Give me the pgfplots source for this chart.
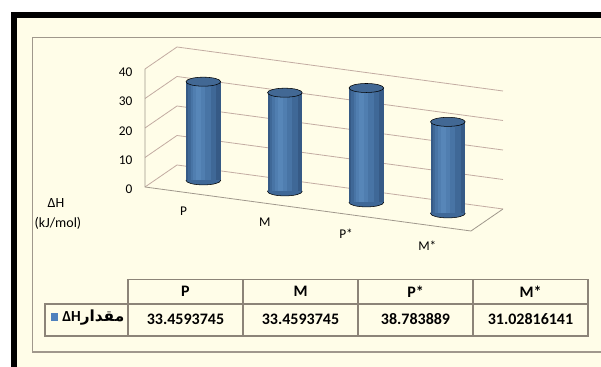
\documentclass[border=0pt]{standalone}
\usepackage{pgfplots}
\pgfplotsset{compat=1.18}
\usepackage{fontspec}
\setmainfont{Carlito}
\newfontfamily\arabicfont[Script=Arabic]{DejaVu Sans}
\TeXXeTstate=1
\pgfdeclarelayer{background}
\pgfsetlayers{background,main}
\definecolor{cream}{RGB}{255,253,232}
\definecolor{frameg}{RGB}{160,152,140}
\definecolor{tablec}{RGB}{140,132,120}
\definecolor{gridc}{RGB}{195,172,162}
\definecolor{cylA}{RGB}{54,90,134}
\definecolor{cylB}{RGB}{63,104,151}
\definecolor{cylC}{RGB}{72,116,165}
\definecolor{cylD}{RGB}{80,126,176}
\definecolor{cylE}{RGB}{87,134,184}
\definecolor{capc}{RGB}{66,104,148}
\definecolor{keyc}{RGB}{79,129,189}

\newcommand\cyl[2]{%
  \addplot3[only marks, mark=*, mark size=13pt, mark options={yscale=0.26, fill=cylB, draw=none}] coordinates {(#1,0.55,0)};
  \addplot3[no marks, line width=26pt, cylA] coordinates {(#1,0.55,0) (#1,0.55,#2)};
  \addplot3[no marks, line width=21pt, cylB, xshift=-1pt] coordinates {(#1,0.55,0) (#1,0.55,#2)};
  \addplot3[no marks, line width=15pt, cylC, xshift=-2pt] coordinates {(#1,0.55,0) (#1,0.55,#2)};
  \addplot3[no marks, line width=9pt, cylD, xshift=-3pt] coordinates {(#1,0.55,0) (#1,0.55,#2)};
  \addplot3[no marks, line width=4pt, cylE, xshift=-3.5pt] coordinates {(#1,0.55,0) (#1,0.55,#2)};
  \addplot3[only marks, mark=*, mark size=13pt, mark options={yscale=0.26, fill=capc, draw=none}] coordinates {(#1,0.55,#2)};
}

\begin{document}
\begin{tikzpicture}
\begin{axis}[
  x={(61.125pt,-8.25pt)}, y={(24pt,16.5pt)}, z={(0pt,2.2125pt)},
  disabledatascaling,
  xmin=-0.5, xmax=3.5, ymin=0, ymax=1, zmin=0, zmax=40,
  xtick={0,1,2,3}, xticklabels={P,M,P*,M*},
  ytick=\empty,
  ztick={0,10,20,30,40},
  zmajorgrids,
  major tick length=0pt,
  axis line style={draw=none},
  grid style={gridc, line width=0.6pt},
  clip=false,
  clip marker paths=true,
  tick label style={font=\fontsize{10}{12}\selectfont},
  xticklabel style={yshift=-7pt, xshift=2pt},
  zticklabel style={xshift=-6pt},
  /pgf/number format/assume math mode=true,
]
\draw[frameg, line width=0.6pt] (axis cs:-0.5,0,40) -- (axis cs:-0.5,0,0) -- (axis cs:3.5,0,0) -- (axis cs:3.5,1,0);
\cyl{0}{33.4593745}
\cyl{1}{33.4593745}
\cyl{2}{38.783889}
\cyl{3}{31.02816141}
\coordinate (O) at (axis cs:-0.5,0,0);
\end{axis}
\pgfresetboundingbox
\begin{scope}[x=0.75pt,y=-0.75pt,shift={(O)},shift={(-145,-187)}]
 \path[use as bounding box] (0,0) rectangle (601,367);
 \begin{pgfonlayer}{background}
   \fill[white] (0,0) rectangle (601,367);
   \fill[black] (11,12) rectangle (601,367);
   \fill[cream] (17,18) rectangle (601,367);
   \draw[frameg, line width=1.1pt] (610,37.5) -- (32.5,37.5) -- (32.5,352) -- (610,352);
 \end{pgfonlayer}
 \node[font=\fontsize{10.5}{12}\selectfont] at (56,203) {ΔH};
 \node[font=\fontsize{10.5}{12}\selectfont] at (58,223) {(kJ/mol)};
 % data table
 \draw[tablec, line width=0.9pt] (128,279.5) -- (588,279.5) -- (588,336) -- (45,336) -- (45,304) -- (588,304);
 \foreach \xx in {128,243,358,473} {\draw[tablec, line width=0.9pt] (\xx,279.5) -- (\xx,336);}
 \begin{scope}[every node/.style={font=\bfseries\fontsize{12}{14}\selectfont}]
 \node at (185.5,291.5) {P};
 \node at (300.5,291.5) {M};
 \node at (415.5,291.5) {P*};
 \node at (530.5,291.5) {M*};
 \node at (185.5,319) {33.4593745};
 \node at (300.5,319) {33.4593745};
 \node at (415.5,319) {38.783889};
 \node at (530.5,319) {31.02816141};
 \end{scope}
 \fill[keyc] (51,313) rectangle (58,321);
 \node[anchor=west, inner sep=0pt, font=\bfseries\fontsize{11.5}{13}\selectfont] at (62,318) {ΔH{\arabicfont\beginR مقدار\endR}};
\end{scope}
\end{tikzpicture}
\end{document}
